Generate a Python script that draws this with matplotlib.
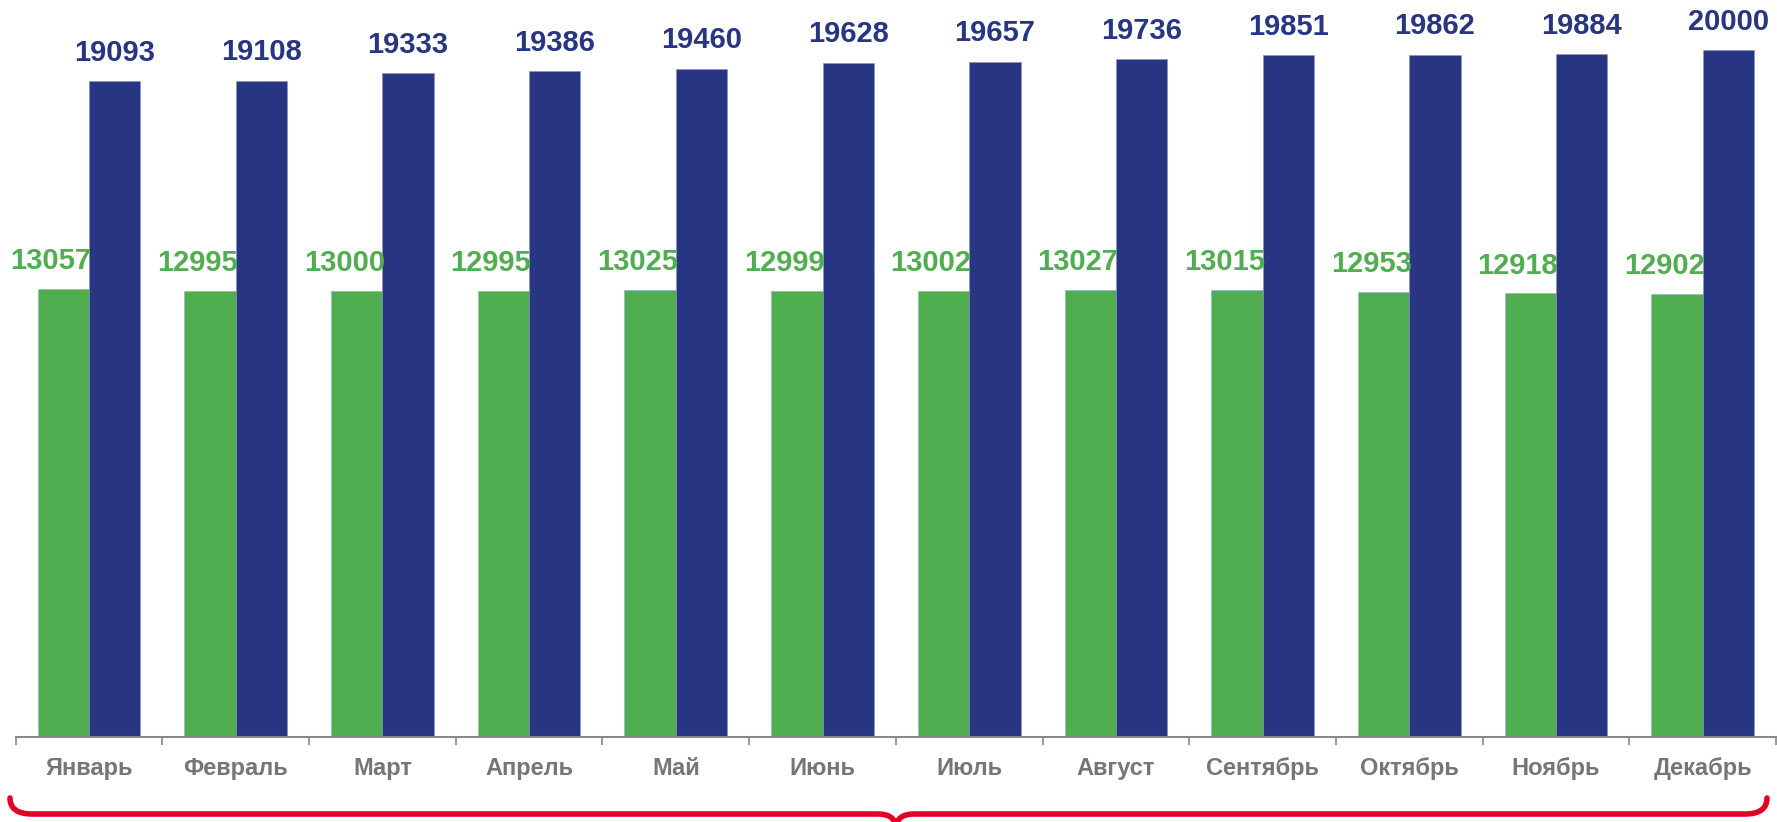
import matplotlib
matplotlib.use('Agg')
from matplotlib import pyplot as plt
from matplotlib.path import Path
from matplotlib.patches import PathPatch
import numpy as np

months = ['Январь', 'Февраль', 'Март', 'Апрель', 'Май', 'Июнь',
          'Июль', 'Август', 'Сентябрь', 'Октябрь', 'Ноябрь', 'Декабрь']
green_vals = [13057, 12995, 13000, 12995, 13025, 12999,
              13002, 13027, 13015, 12953, 12918, 12902]
blue_vals = [19093, 19108, 19333, 19386, 19460, 19628,
             19657, 19736, 19851, 19862, 19884, 20000]

GREEN = '#50AE50'
BLUE = '#283583'
GRAY = '#767676'
RED = '#E30026'

W, H = 1777, 822


def main():
	plt.rcParams['font.family'] = ['Liberation Sans', 'DejaVu Sans']
	fig = plt.figure(figsize=(W / 100, H / 100), dpi=100)
	ax = fig.add_axes([15.7 / W, (H - 737.3) / H, (1776 - 15.7) / W, 737.3 / H])

	x = np.arange(len(months))
	w = 0.35
	ax.bar(x - w / 2, green_vals, w, color=GREEN, edgecolor='#8fb0c8', linewidth=0.4)
	ax.bar(x + w / 2, blue_vals, w, color=BLUE, edgecolor='#8a93c0', linewidth=0.4)

	for i, v in enumerate(green_vals):
		ax.annotate(str(v), (x[i] - w / 2, v), xytext=(-9, 20), textcoords='offset points',
		            ha='center', va='center', color=GREEN, fontsize=21, fontweight='bold')
	for i, v in enumerate(blue_vals):
		ax.annotate(str(v), (x[i] + w / 2, v), xytext=(0, 20.5), textcoords='offset points',
		            ha='center', va='center', color=BLUE, fontsize=21, fontweight='bold')

	ax.set_xlim(-0.5, len(months) - 0.5)
	ax.set_ylim(0, 737.3 / 0.03436)
	ax.set_xticks(x)
	ax.set_xticklabels(months, fontsize=17, fontweight='bold', color=GRAY)
	ax.set_xticks(np.arange(len(months) + 1) - 0.5, minor=True)
	ax.tick_params(axis='x', which='major', length=0, pad=14)
	ax.tick_params(axis='x', which='minor', length=5.5, width=1.2, color='#888888', direction='out')
	ax.set_yticks([])
	for s in ['top', 'right', 'left']:
		ax.spines[s].set_visible(False)
	ax.spines['bottom'].set_color('#888888')
	ax.spines['bottom'].set_linewidth(1.5)

	# red curly brace under the axis
	def p(px, py):
		return (px / W, (H - py) / H)
	verts = [p(10, 798), p(10, 814), p(32, 814),
	         p(878, 814), p(894, 814), p(896, 826),
	         p(898, 814), p(914, 814),
	         p(1745, 814), p(1767, 814), p(1767, 798)]
	codes = [Path.MOVETO, Path.CURVE3, Path.CURVE3,
	         Path.LINETO, Path.CURVE3, Path.CURVE3,
	         Path.CURVE3, Path.CURVE3,
	         Path.LINETO, Path.CURVE3, Path.CURVE3]
	fig.patches.append(PathPatch(Path(verts, codes), transform=fig.transFigure,
	                             fill=False, edgecolor=RED, linewidth=4, capstyle='round'))

	fig.savefig('out.png', dpi=100)


if __name__ == '__main__':
	main()
